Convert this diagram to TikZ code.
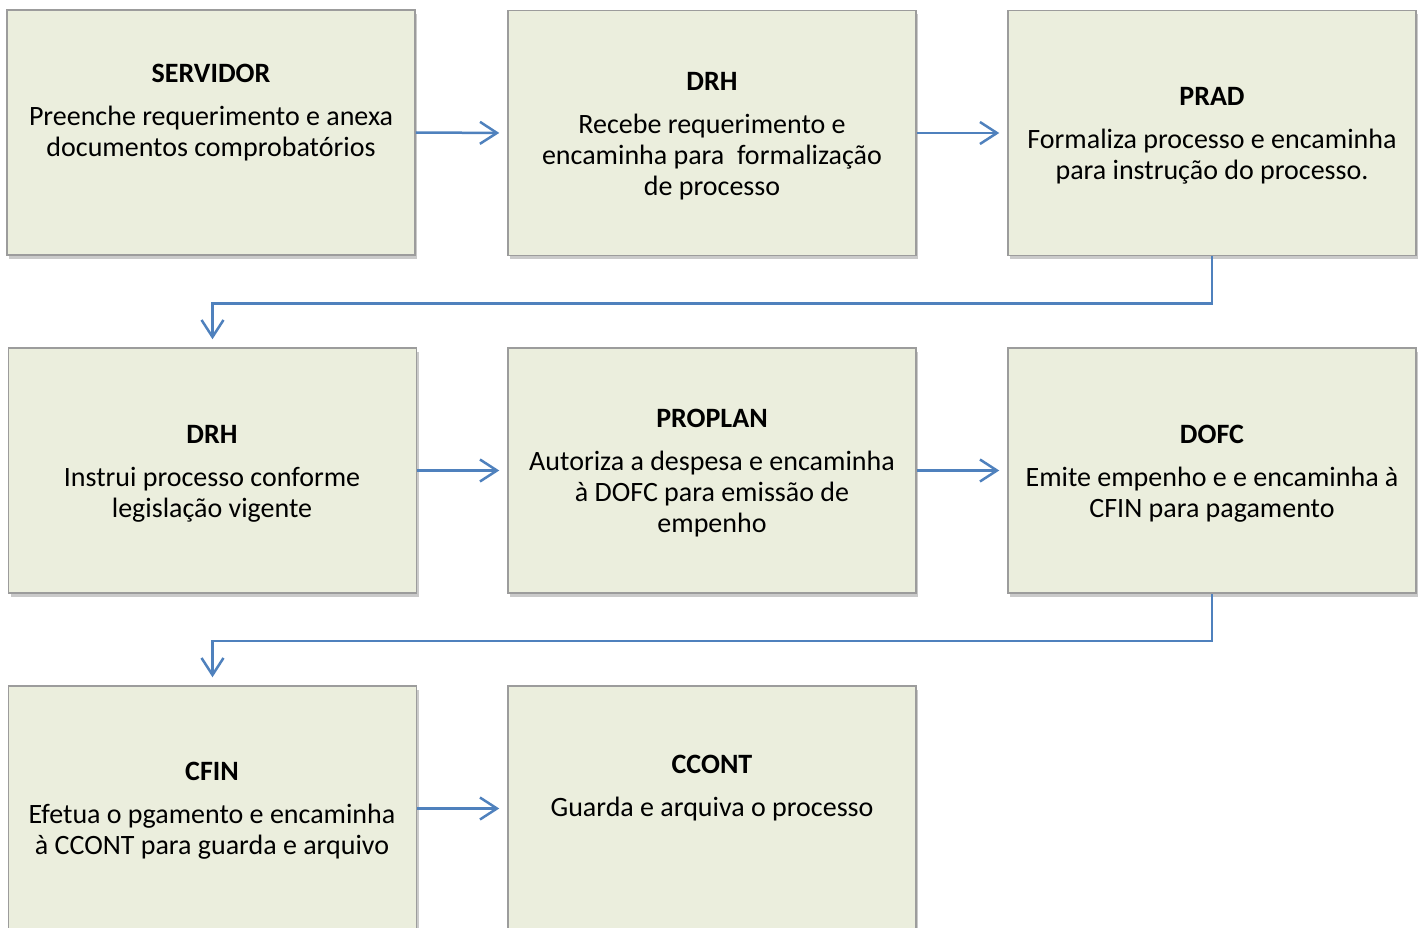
\documentclass[tikz,border=0pt]{standalone}
\usepackage{fontspec}
\setmainfont{Carlito}
\usetikzlibrary{arrows.meta,shadows,positioning}
\definecolor{boxfill}{HTML}{EBEEDD}
\definecolor{boxline}{HTML}{9C9C9C}
\definecolor{arrowblue}{HTML}{4F81BD}
\begin{document}
\begin{tikzpicture}[x=1pt,y=1pt,
  procbox/.style={draw=boxline, line width=1.5pt, fill=boxfill, minimum width=408pt, minimum height=245pt, inner sep=0pt,
    drop shadow={shadow xshift=2pt, shadow yshift=-4pt, opacity=0.35, fill=black!60}},
  boxtext/.style={align=center, font=\fontsize{28}{31}\selectfont, inner sep=0pt},
  flow/.style={draw=arrowblue, line width=2.5pt, -{Straight Barb[length=17pt,width=22pt,line width=2.5pt]}, shorten >=8pt}
]
\useasboundingbox (0,0) rectangle (1425,-928);
\begin{scope}
\clip (0,0) rectangle (1425,-928);
\node[procbox] (b1) at (211,-132.5) {};
\node[procbox] (b2) at (712,-133) {};
\node[procbox] (b3) at (1212,-133) {};
\node[procbox] (b4) at (212.5,-470.5) {};
\node[procbox] (b5) at (712,-470.5) {};
\node[procbox] (b6) at (1212,-470.5) {};
\node[procbox] (b7) at (212.5,-808.5) {};
\node[procbox] (b8) at (712,-808.5) {};

\node[boxtext] (t1) at (211,-113) {\textbf{SERVIDOR}\\[12pt]Preenche requerimento e anexa\\documentos comprobatórios};
\node[boxtext] (t2) at (712,-136) {\textbf{DRH}\\[12pt]Recebe requerimento e\\encaminha para\ \ formalização\\de processo};
\node[boxtext] (t3) at (1212,-136) {\textbf{PRAD}\\[12pt]Formaliza processo e encaminha\\para instrução do processo.};
\node[boxtext] (t4) at (212,-473.5) {\textbf{DRH}\\[12pt]Instrui processo conforme\\legislação vigente};
\node[boxtext] (t5) at (712,-473.5) {\textbf{PROPLAN}\\[12pt]Autoriza a despesa e encaminha\\à DOFC para emissão de\\empenho};
\node[boxtext] (t6) at (1212,-473.5) {\textbf{DOFC}\\[12pt]Emite empenho e e encaminha à\\CFIN para pagamento};
\node[boxtext] (t7) at (212,-811) {\textbf{CFIN}\\[12pt]Efetua o pgamento e encaminha\\à CCONT para guarda e arquivo};
\node[boxtext] (t8) at (712,-788.5) {\textbf{CCONT}\\[12pt]Guarda e arquiva o processo};

\draw[flow] (b1.east) -- (b2.west);
\draw[flow] (b2.east) -- (b3.west);
\draw[flow] (b4.east) -- (b5.west);
\draw[flow] (b5.east) -- (b6.west);
\draw[flow] (b7.east) -- (b8.west);
\draw[flow] (b3.south) -- ++(0,-47) -| (b4.north);
\draw[flow] (b6.south) -- ++(0,-47) -| (b7.north);
\end{scope}
\end{tikzpicture}
\end{document}
